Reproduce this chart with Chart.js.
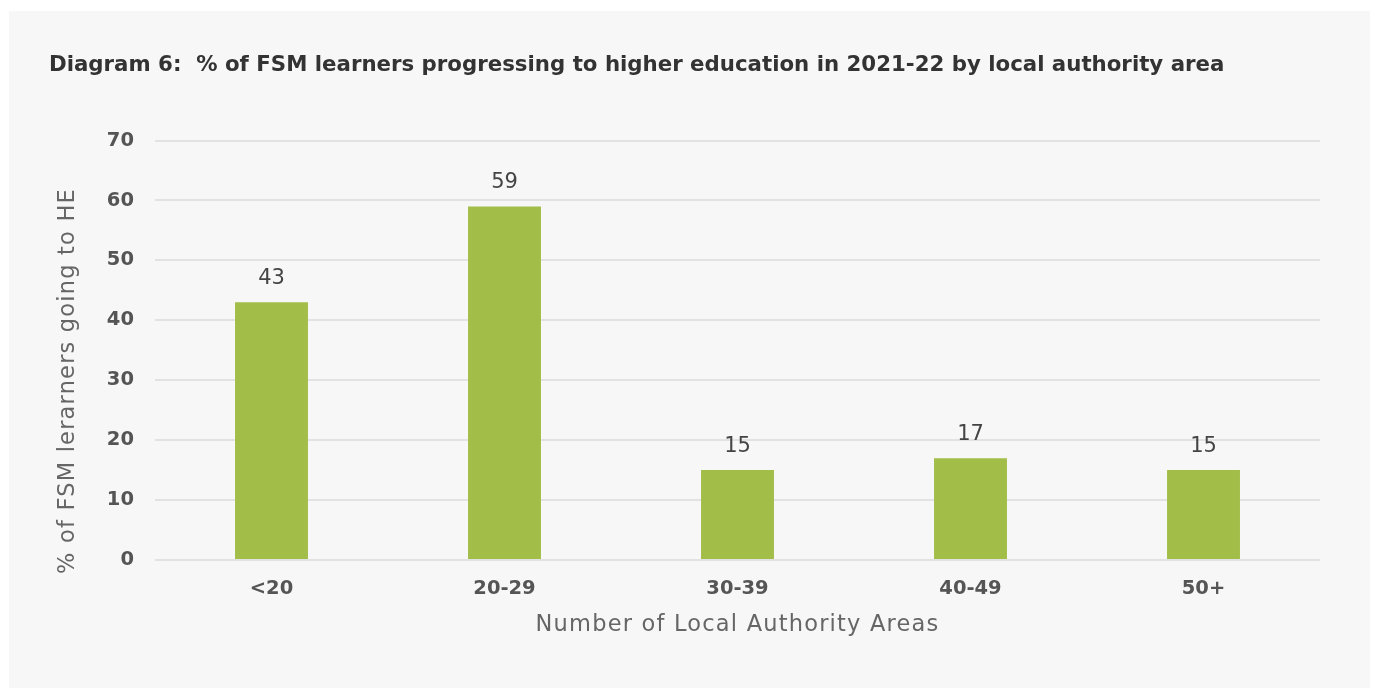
<!DOCTYPE html>
<html>
<head>
<meta charset="utf-8">
<script src="https://cdn.jsdelivr.net/npm/chart.js@4/dist/chart.umd.min.js"></script>
<style>
  html, body { margin: 0; padding: 0; background: #ffffff; }
  #panel {
    position: absolute; left: 9px; top: 11px;
    width: 1361px; height: 677px; background: #f7f7f7;
  }
  #chart { display: block; }
</style>
</head>
<body>
<div id="panel"><canvas id="chart" width="1361" height="677"></canvas></div>
<script>
// Data
const categories = ['<20', '20-29', '30-39', '40-49', '50+'];
const values = [43, 59, 15, 17, 15];
const yTicks = [0, 10, 20, 30, 40, 50, 60, 70];

const FONT = '"DejaVu Sans", sans-serif';
const BAR_COLOR = '#a2be48';

// Values above the bars
const valueLabels = {
  id: 'valueLabels',
  afterDatasetsDraw(chart) {
    const ctx = chart.ctx;
    const meta = chart.getDatasetMeta(0);
    ctx.save();
    ctx.font = '21px ' + FONT;
    ctx.fillStyle = '#444444';
    ctx.textAlign = 'center';
    ctx.textBaseline = 'bottom';
    meta.data.forEach((bar, i) => {
      ctx.fillText(String(values[i]), bar.x, bar.y - 13);
    });
    ctx.restore();
  }
};

// Axis titles (the y one sits a bit lower than the plot centre in the reference)
const axisTitles = {
  id: 'axisTitles',
  afterDraw(chart) {
    const ctx = chart.ctx;
    const area = chart.chartArea;
    ctx.save();
    ctx.letterSpacing = '1.2px';   // reference font is wider than DejaVu
    ctx.font = '22.5px ' + FONT;
    ctx.fillStyle = '#666666';
    ctx.textAlign = 'center';
    ctx.textBaseline = 'middle';
    ctx.fillText('Number of Local Authority Areas', (area.left + area.right) / 2, area.bottom + 65);
    ctx.translate(59, 370);
    ctx.rotate(-Math.PI / 2);
    ctx.fillText('% of FSM lerarners going to HE', 0, 0);
    ctx.restore();
  }
};

new Chart(document.getElementById('chart'), {
  type: 'bar',
  data: {
    labels: categories,
    datasets: [{
      data: values,
      backgroundColor: BAR_COLOR,
      borderWidth: 0,
      categoryPercentage: 1,
      barPercentage: 0.313
    }]
  },
  plugins: [valueLabels, axisTitles],
  options: {
    responsive: false,
    animation: false,
    layout: { padding: { left: 40, right: 50, top: 0, bottom: 0 } },
    plugins: {
      legend: { display: false },
      tooltip: { enabled: false },
      title: {
        display: true,
        text: 'Diagram 6:  % of FSM learners progressing to higher education in 2021-22 by local authority area',
        align: 'start',
        color: '#333333',
        font: { family: FONT, size: 21.3, weight: 'bold' },
        padding: { top: 42, bottom: 62 }
      }
    },
    scales: {
      x: {
        grid: { display: false, drawTicks: false },
        border: { display: false },
        ticks: {
          color: '#555555',
          font: { family: FONT, size: 19.5, weight: 'bold' },
          padding: 17
        },
        afterFit(scale) { scale.height = 128; }
      },
      y: {
        min: 0,
        max: 70,
        afterBuildTicks(scale) { scale.ticks = yTicks.map(v => ({ value: v })); },
        grid: { color: '#e2e2e2', lineWidth: 2, drawTicks: false },
        border: { display: false },
        ticks: {
          color: '#555555',
          font: { family: FONT, size: 19.5, weight: 'bold' },
          padding: 21
        },
        afterFit(scale) { scale.width = 106; }
      }
    }
  }
});
</script>
</body>
</html>
